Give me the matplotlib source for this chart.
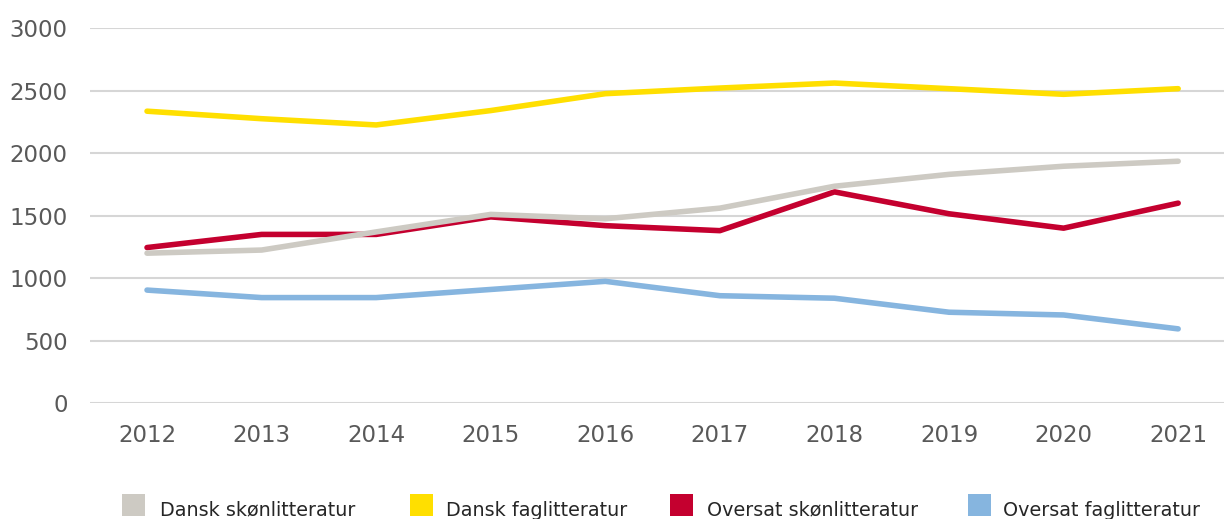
import matplotlib
matplotlib.use("Agg")
import matplotlib.pyplot as plt
from matplotlib.patches import Rectangle

years = ["2012", "2013", "2014", "2015", "2016", "2017", "2018", "2019", "2020", "2021"]
dansk_skon = [1200, 1225, 1370, 1510, 1475, 1560, 1735, 1830, 1895, 1935]
dansk_fag = [2335, 2275, 2225, 2340, 2475, 2520, 2560, 2515, 2470, 2515]
oversat_skon = [1245, 1350, 1350, 1490, 1420, 1380, 1690, 1515, 1400, 1600]
oversat_fag = [905, 845, 845, 910, 975, 860, 840, 728, 706, 595]
yticks = [0, 500, 1000, 1500, 2000, 2500, 3000]
labels = ["Dansk skønlitteratur", "Dansk faglitteratur", "Oversat skønlitteratur", "Oversat faglitteratur"]
colors = ["#CDCAC3", "#FFDF00", "#C4002F", "#86B5DF"]

W, H = 1224, 519
fig = plt.figure(figsize=(W / 100, H / 100), dpi=100)
left, right, top, bottom = 90, 1224, 28, 403.3
ax = fig.add_axes([left / W, 1 - bottom / H, (right - left) / W, (bottom - top) / H])

x = list(range(len(years)))
series = [dansk_skon, dansk_fag, oversat_skon, oversat_fag]
# drawing order: yellow, red, blue, grey on top
for idx, z in zip([1, 2, 3, 0], [3, 4, 5, 6]):
    ax.plot(x, series[idx], color=colors[idx], lw=4, solid_capstyle="round",
            solid_joinstyle="round", zorder=z)

ax.set_ylim(0, 3000)
ax.set_xlim(-0.4976, 9.40)
ax.set_yticks(yticks)
ax.set_yticklabels([str(v) for v in yticks])
ax.set_xticks(x)
ax.set_xticklabels(years)
ax.grid(axis="y", color="#D6D6D6", lw=1.5, zorder=0)
ax.set_axisbelow(True)
for s in ax.spines.values():
    s.set_visible(False)
ax.tick_params(axis="both", length=0, labelsize=16.5, labelcolor="#595959")
ax.tick_params(axis="y", pad=16)
ax.tick_params(axis="x", pad=15)

# legend
handle_x = [122, 410, 670, 968]
text_x = [160, 446, 707, 1003]
for hx, tx, lab, col in zip(handle_x, text_x, labels, colors):
    fig.patches.append(Rectangle((hx / W, 1 - 516 / H), 23 / W, 22 / H,
                                 transform=fig.transFigure, facecolor=col,
                                 edgecolor="none"))
    fig.text(tx / W, 1 - 515.7 / H, lab, fontsize=13.8, family="DejaVu Sans",
             color="#262626", va="baseline", ha="left")

fig.savefig("out.png", dpi=100)
